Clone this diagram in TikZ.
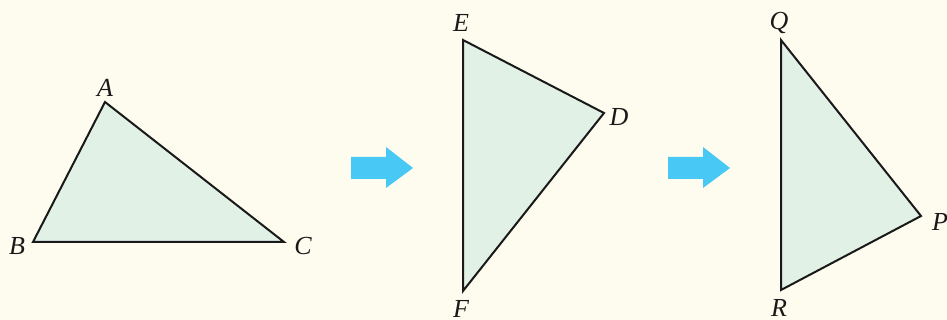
\documentclass[tikz,border=0pt]{standalone}
\usepackage{fontspec}
\setmainfont{Liberation Serif}
\definecolor{bgcream}{HTML}{FEFCEF}
\definecolor{trifill}{HTML}{E1F1E6}
\definecolor{arrowblue}{HTML}{47C8F5}
\tikzset{
  tri/.style={fill=trifill,draw=black!90,line width=2pt,line join=miter},
  vlabel/.style={font=\fontsize{26}{30}\selectfont\itshape,inner sep=0pt,text=black!90},
  movearrow/.style={fill=arrowblue,draw=none}
}
\begin{document}
\begin{tikzpicture}[x=1pt,y=-1pt]
  \fill[bgcream] (0,0) rectangle (947,320);
  \useasboundingbox (0,0) rectangle (947,320);
  % first triangle
  \coordinate (A) at (105,102);
  \coordinate (B) at (33,242);
  \coordinate (C) at (284,242);
  \draw[tri] (A) -- (B) -- (C) -- cycle;
  \node[vlabel] (la) at (105,88) {A};
  \node[vlabel] (lb) at (17,246) {B};
  \node[vlabel] (lc) at (303,246) {C};
  % second triangle
  \coordinate (E) at (463,40);
  \coordinate (D) at (604,113);
  \coordinate (F) at (463,291);
  \draw[tri] (E) -- (D) -- (F) -- cycle;
  \node[vlabel] (le) at (461,23) {E};
  \node[vlabel] (ld) at (619,117) {D};
  \node[vlabel] (lf) at (461,309) {F};
  % third triangle
  \coordinate (Q) at (781,40);
  \coordinate (P) at (921,216);
  \coordinate (R) at (781,290);
  \draw[tri] (Q) -- (P) -- (R) -- cycle;
  \node[vlabel] (lq) at (779,23) {Q};
  \node[vlabel] (lp) at (940,222) {P};
  \node[vlabel] (lr) at (779,308) {R};
  % arrows
  \foreach \x in {351,668} {
    \fill[movearrow] (\x,157) -- (\x+35,157) -- (\x+35,147) -- (\x+62,168)
      -- (\x+35,188) -- (\x+35,179) -- (\x,179) -- cycle;
  }
\end{tikzpicture}
\end{document}
